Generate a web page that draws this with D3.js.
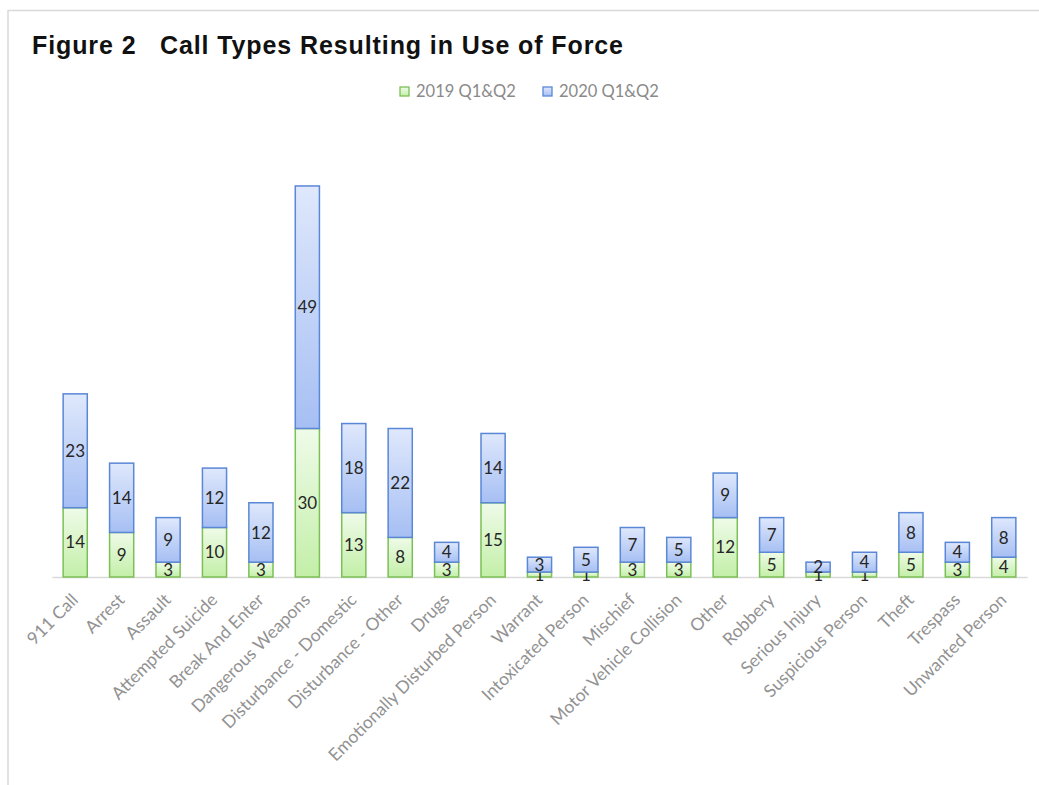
<!DOCTYPE html>
<html>
<head>
<meta charset="utf-8">
<script src="https://cdn.jsdelivr.net/npm/d3@7/dist/d3.min.js"></script>
<style>
  html, body { margin: 0; padding: 0; background: #fff; }
  svg { display: block; }
</style>
</head>
<body>
<div id="chart"></div>
<script>
// call types, in the order shown on the x axis
const categories = [
  "911 Call", "Arrest", "Assault", "Attempted Suicide", "Break And Enter",
  "Dangerous Weapons", "Disturbance - Domestic", "Disturbance - Other", "Drugs",
  "Emotionally Disturbed Person", "Warrant", "Intoxicated Person", "Mischief",
  "Motor Vehicle Collision", "Other", "Robbery", "Serious Injury",
  "Suspicious Person", "Theft", "Trespass", "Unwanted Person"
];
const values2019 = [14, 9, 3, 10, 3, 30, 13, 8, 3, 15, 1, 1, 3, 3, 12, 5, 1, 1, 5, 3, 4];
const values2020 = [23, 14, 9, 12, 12, 49, 18, 22, 4, 14, 3, 5, 7, 5, 9, 7, 2, 4, 8, 4, 8];
const seriesNames = ["2019 Q1&Q2", "2020 Q1&Q2"];

const WIDTH = 1039, HEIGHT = 785;

const svg = d3.select("#chart").append("svg")
  .attr("width", WIDTH)
  .attr("height", HEIGHT);

// gradients, light at the top and a bit stronger at the bottom
const defs = svg.append("defs");
const grads = [
  { id: "g2019", top: "#effbe9", bottom: "#c3efa8", stroke: "#7cbf57" },
  { id: "g2020", top: "#dfe8fc", bottom: "#a6bff3", stroke: "#5a87d6" }
];
grads.forEach(g => {
  const lg = defs.append("linearGradient")
    .attr("id", g.id)
    .attr("x1", 0).attr("y1", 0).attr("x2", 0).attr("y2", 1);
  lg.append("stop").attr("offset", "0%").attr("stop-color", g.top);
  lg.append("stop").attr("offset", "100%").attr("stop-color", g.bottom);
});

// frame lines (only top and left show in the picture)
svg.append("line")
  .attr("x1", 8).attr("x2", WIDTH).attr("y1", 10.5).attr("y2", 10.5)
  .attr("stroke", "#d9d9d9").attr("stroke-width", 1.5);
svg.append("line")
  .attr("x1", 8).attr("x2", 8).attr("y1", 10).attr("y2", HEIGHT)
  .attr("stroke", "#d9d9d9").attr("stroke-width", 1.5);

// title - stretched to the width it has in the picture
svg.append("text")
  .attr("x", 32).attr("y", 54)
  .style("white-space", "pre")
  .attr("font-family", "'Liberation Sans', Arial, sans-serif")
  .attr("font-weight", "bold")
  .attr("font-size", 25)
  .attr("fill", "#111")
  .attr("textLength", 591)
  .attr("lengthAdjust", "spacing")
  .text("Figure 2   Call Types Resulting in Use of Force");

// scales
const x = d3.scaleBand()
  .domain(categories)
  .range([52, 1027])
  .paddingInner(0.48)
  .paddingOuter(0.24);

const y = d3.scaleLinear()
  .domain([0, 90])
  .range([577, 577 - 90 * 4.95]);

// stack the two series
const rows = categories.map((c, i) => ({ cat: c, s2019: values2019[i], s2020: values2020[i] }));
const stack = d3.stack().keys(["s2019", "s2020"]);
const layers = stack(rows);

// axis (drawn first so the bars sit on the line)
const xAxis = svg.append("g")
  .attr("transform", "translate(0,577)")
  .call(d3.axisBottom(x).tickSize(0).tickSizeOuter(0));
xAxis.select(".domain").attr("stroke", "#d9d9d9").attr("stroke-width", 1.5);
xAxis.selectAll(".tick text")
  .attr("font-family", "Lato, 'Open Sans', sans-serif")
  .attr("font-size", 17.5)
  .attr("fill", "#929292")
  .attr("text-anchor", "end")
  .attr("dy", 0)
  .attr("y", 0)
  .attr("transform", "translate(4,24) rotate(-45)");

const layerG = svg.selectAll("g.layer")
  .data(layers)
  .enter().append("g")
  .attr("class", "layer");

layerG.selectAll("rect")
  .data((d, i) => d.map(p => ({ p, i })))
  .enter().append("rect")
  .attr("x", d => x(d.p.data.cat))
  .attr("width", x.bandwidth())
  .attr("y", d => y(d.p[1]))
  .attr("height", d => y(d.p[0]) - y(d.p[1]))
  .attr("fill", d => `url(#${grads[d.i].id})`)
  .attr("stroke", d => grads[d.i].stroke)
  .attr("stroke-width", 1.5);

// value labels in the middle of each segment
layerG.selectAll("text")
  .data((d, i) => d.map(p => ({ p, i })))
  .enter().append("text")
  .attr("x", d => x(d.p.data.cat) + x.bandwidth() / 2)
  .attr("y", d => (y(d.p[0]) + y(d.p[1])) / 2)
  .attr("dy", "0.36em")
  .attr("text-anchor", "middle")
  .attr("font-family", "Lato, 'Open Sans', sans-serif")
  .attr("font-size", 17)
  .attr("fill", "#262626")
  .text(d => d.p[1] - d.p[0]);

// legend
const legend = svg.append("g").attr("class", "legend");
const legendX = [400, 543];
seriesNames.forEach((name, i) => {
  const g = legend.append("g").attr("transform", `translate(${legendX[i]},87)`);
  g.append("rect")
    .attr("width", 9).attr("height", 9)
    .attr("fill", `url(#${grads[i].id})`)
    .attr("stroke", grads[i].stroke)
    .attr("stroke-width", 1.3);
  g.append("text")
    .attr("x", 16).attr("y", 4.5)
    .attr("dy", "0.36em")
    .attr("font-family", "Lato, 'Open Sans', sans-serif")
    .attr("font-size", 16.5)
    .attr("fill", "#8a8a8a")
    .text(name);
});
</script>
</body>
</html>
